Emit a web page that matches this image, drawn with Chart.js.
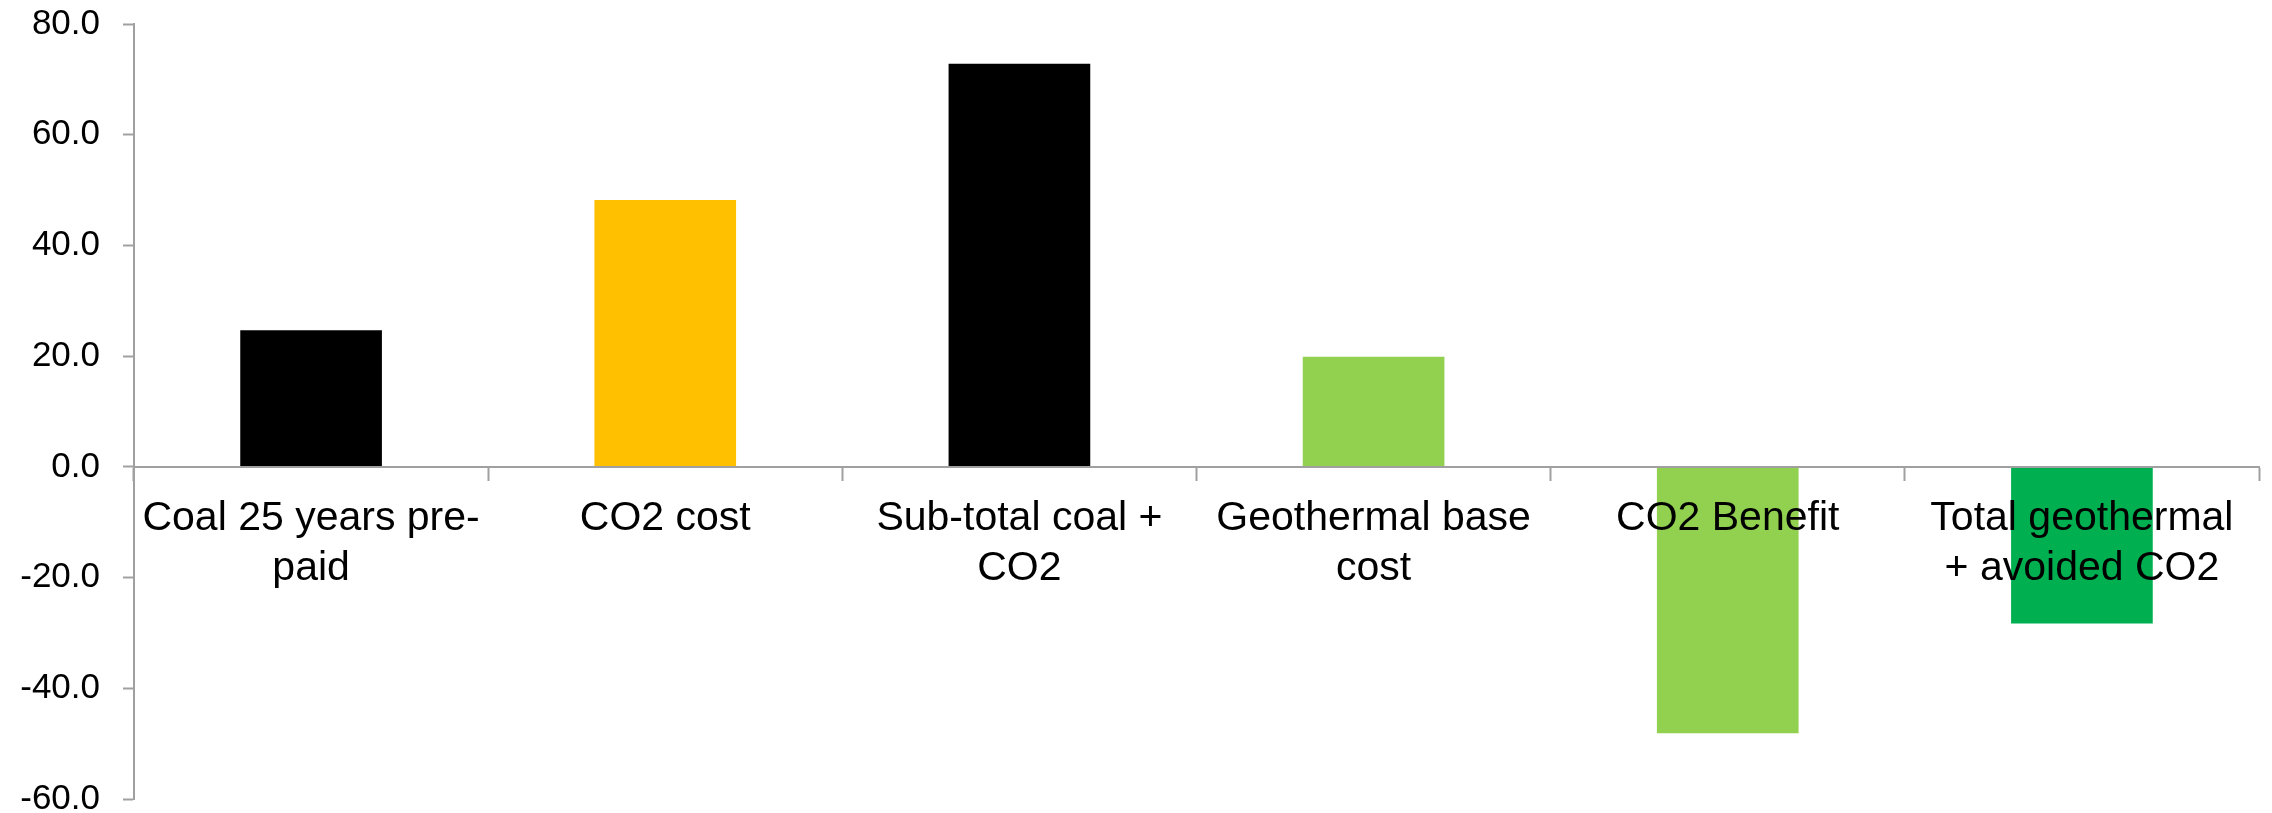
<!DOCTYPE html>
<html>
<head>
<meta charset="utf-8">
<title>Coal vs geothermal cost</title>
<script src="https://cdn.jsdelivr.net/npm/chart.js@4/dist/chart.umd.min.js"></script>
<style>
    html, body { margin: 0; padding: 0; background: #ffffff; overflow: hidden; }
    #costChart { display: block; }
</style>
</head>
<body>
<canvas id="costChart" width="2272" height="813"></canvas>
<script>
// Cost components (multi-line category labels)
const categories = [
    ['Coal 25 years pre-', 'paid'],
    ['CO2 cost'],
    ['Sub-total coal +', 'CO2'],
    ['Geothermal base', 'cost'],
    ['CO2 Benefit'],
    ['Total geothermal', '+ avoided CO2']
];
const costValues = [24.7, 48.2, 72.8, 19.9, -48.1, -28.3];
const barColors = ['#000000', '#FFC000', '#000000', '#92D050', '#92D050', '#00B050'];
const yTicks = [-60, -40, -20, 0, 20, 40, 60, 80];

const axisGray = '#A0A0A0';
const fontFamily = '"Liberation Sans", Arial, sans-serif';

document.addEventListener('DOMContentLoaded', function() {
    initCostChart();
});

function initCostChart() {
    const ctx = document.getElementById('costChart').getContext('2d');
    window.costChart = new Chart(ctx, {
        type: 'bar',
        data: {
            labels: categories,
            datasets: [{
                data: costValues,
                backgroundColor: barColors,
                borderWidth: 0,
                categoryPercentage: 1.0,
                barPercentage: 0.4
            }]
        },
        options: {
            responsive: false,
            animation: false,
            layout: {
                padding: { left: 0, right: 13, top: 24, bottom: 14 }
            },
            plugins: {
                legend: { display: false },
                tooltip: { enabled: false }
            },
            scales: {
                x: {
                    position: { y: 0 },
                    offset: true,
                    grid: {
                        offset: true,
                        drawOnChartArea: false,
                        drawTicks: true,
                        tickLength: 13,
                        tickWidth: 2,
                        tickColor: axisGray
                    },
                    border: { color: axisGray, width: 2, z: 1 },
                    ticks: {
                        // category names sit on top of the negative bars
                        z: 1,
                        autoSkip: false,
                        maxRotation: 0,
                        minRotation: 0,
                        padding: 14,
                        color: '#000000',
                        font: { family: fontFamily, size: 41, lineHeight: 1.22 }
                    }
                },
                y: {
                    min: yTicks[0],
                    max: yTicks[yTicks.length - 1],
                    afterBuildTicks: function(scale) {
                        scale.ticks = yTicks.map(v => ({ value: v }));
                    },
                    afterFit: function(scale) {
                        // keep the axis line at a fixed x and let end labels overflow
                        scale.width = 134;
                        scale.paddingTop = 0;
                        scale.paddingBottom = 0;
                    },
                    grid: {
                        drawOnChartArea: false,
                        drawTicks: true,
                        tickLength: 11,
                        tickWidth: 2,
                        tickColor: axisGray
                    },
                    border: { color: axisGray, width: 2 },
                    ticks: {
                        padding: 23,
                        color: '#000000',
                        font: { family: fontFamily, size: 35 },
                        callback: function(value) {
                            return Number(value).toFixed(1);
                        }
                    }
                }
            }
        }
    });
}
</script>
</body>
</html>
